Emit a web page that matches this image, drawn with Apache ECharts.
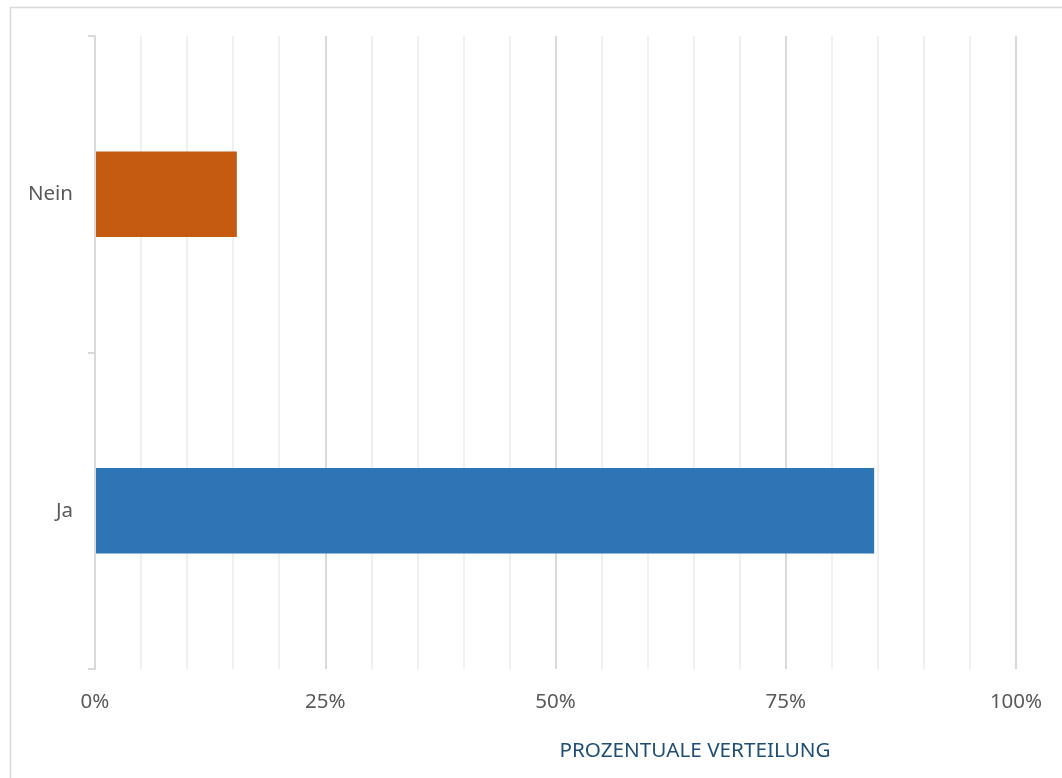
<!DOCTYPE html>
<html>
<head>
<meta charset="utf-8">
<script src="https://cdn.jsdelivr.net/npm/echarts@6/dist/echarts.min.js"></script>
<style>
  html, body { margin: 0; padding: 0; background: #fff; }
  #chart { width: 1062px; height: 778px; }
</style>
</head>
<body>
<div id="chart"></div>
<script>
// Daten
const categories = ['Ja', 'Nein']
const values = [84.6, 15.4]
const barColors = ['#2E75B6', '#C55A11']
const axisTitle = 'PROZENTUALE VERTEILUNG'

const chart = echarts.init(document.getElementById('chart'))

const font = '"Noto Sans", "Open Sans", sans-serif'

const option = {
  animation: false,
  backgroundColor: '#fff',
  grid: {
    left: 95,
    right: 46,
    top: 36,
    bottom: 109,
    containLabel: false
  },
  xAxis: {
    type: 'value',
    min: 0,
    max: 100,
    interval: 25,
    axisLine: { show: false },
    axisTick: { show: false },
    axisLabel: {
      formatter: v => v + '%',
      color: '#595959',
      fontFamily: font,
      fontSize: 20.5,
      margin: 23
    },
    splitLine: { show: true, lineStyle: { color: '#D9D9D9', width: 2 } },
    minorTick: { show: false, splitNumber: 5 },
    minorSplitLine: { show: true, lineStyle: { color: '#F0F0F0', width: 2 } }
  },
  yAxis: {
    type: 'category',
    data: categories,
    z: 3,
    axisLine: { show: true, lineStyle: { color: '#D9D9D9', width: 2 } },
    axisTick: { show: true, length: 7, lineStyle: { color: '#D9D9D9', width: 2 } },
    axisLabel: {
      color: '#595959',
      fontFamily: font,
      fontSize: 20.5,
      margin: 22
    },
    splitLine: { show: false }
  },
  series: [
    {
      type: 'bar',
      barWidth: '27%',
      data: values.map((v, i) => ({
        value: v,
        itemStyle: { color: barColors[i] }
      }))
    }
  ],
  graphic: [
    {
      type: 'rect',
      shape: { x: 10.5, y: 7.5, width: 1100, height: 800 },
      style: { fill: 'none', stroke: '#D9D9D9', lineWidth: 1.5 },
      silent: true
    },
    {
      type: 'text',
      x: 695,
      y: 751,
      style: {
        text: axisTitle,
        fill: '#1F4E79',
        font: '20.7px ' + font,
        textAlign: 'center',
        textVerticalAlign: 'middle'
      }
    }
  ]
}

chart.setOption(option)
window.addEventListener('resize', () => chart.resize())
</script>
</body>
</html>
